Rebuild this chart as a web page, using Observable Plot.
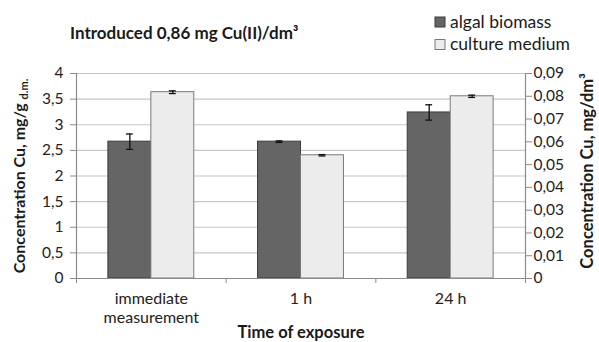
<!DOCTYPE html>
<html><head><meta charset="utf-8">
<script src="https://cdn.jsdelivr.net/npm/d3@7"></script>
<script src="https://cdn.jsdelivr.net/npm/@observablehq/plot@0.6"></script>
<style>
body{margin:0;background:#fff;}
#chart{position:relative;width:599px;height:342px;}
</style></head><body><div id="chart"></div>
<script>
// Data
const categories = ["immediate\nmeasurement", "1 h", "24 h"];
const series = ["algal biomass", "culture medium"];
const algal = [2.67, 2.67, 3.24];          // mg/g d.m. (left axis)
const algalErr = [0.15, 0.015, 0.15];
const medium = [0.0818, 0.0541, 0.0800];   // mg/dm3 (right axis)
const mediumErr = [0.0006, 0.0003, 0.0005];
const leftTicks = [0, 0.5, 1, 1.5, 2, 2.5, 3, 3.5, 4];
const rightTicks = [0, 0.01, 0.02, 0.03, 0.04, 0.05, 0.06, 0.07, 0.08, 0.09];

const ratio = 0.09 / 4; // right axis units per left axis unit
const bw = 0.287;       // bar width in category units
const cap = 0.023;

const rows = [];
categories.forEach((c, i) => {
  rows.push({i, series: series[0], x1: i + 0.5 - bw, x2: i + 0.5, y: algal[i], lo: algal[i] - algalErr[i], hi: algal[i] + algalErr[i]});
  rows.push({i, series: series[1], x1: i + 0.5, x2: i + 0.5 + bw, y: medium[i] / ratio, lo: (medium[i] - mediumErr[i]) / ratio, hi: (medium[i] + mediumErr[i]) / ratio});
});
rows.forEach(r => r.xc = (r.x1 + r.x2) / 2);

const fmtL = d => String(d).replace(".", ",");
const fmtR = d => { const v = Math.round(d * ratio * 100) / 100; return v === 0 ? "0" : v.toFixed(2).replace(".", ","); };

const plot = Plot.plot({
  width: 599, height: 342,
  marginTop: 73, marginBottom: 64, marginLeft: 76, marginRight: 74,
  style: {fontFamily: "Lato, sans-serif", background: "#fff"},
  x: {domain: [0, 3], axis: null},
  y: {domain: [0, 4], axis: null},
  color: {domain: series, range: ["#656565", "#ececec"]},
  marks: [
    Plot.gridY(leftTicks, {stroke: "#c6c6c6", strokeOpacity: 1, strokeWidth: 1.2}),
    Plot.rectY(rows, {x1: "x1", x2: "x2", y: "y", fill: "series", stroke: d => d.series === series[0] ? "#3c3c3c" : "#7a7a7a", strokeWidth: 1}),
    Plot.ruleX(rows, {x: "xc", y1: "lo", y2: "hi", stroke: "#111", strokeWidth: 1.3}),
    Plot.ruleY(rows, {y: "lo", x1: d => d.xc - cap, x2: d => d.xc + cap, stroke: "#111", strokeWidth: 1.3}),
    Plot.ruleY(rows, {y: "hi", x1: d => d.xc - cap, x2: d => d.xc + cap, stroke: "#111", strokeWidth: 1.3}),
    Plot.ruleY([0], {stroke: "#8a8a8a", strokeWidth: 1.2}),
    Plot.ruleX([0, 3], {stroke: "#8a8a8a", strokeWidth: 1.2}),
    Plot.axisY({ticks: leftTicks, tickFormat: fmtL, tickSize: 6, tickPadding: 7, label: null, fontSize: 15.5, stroke: "#8a8a8a", fill: "#222"}),
    Plot.axisY({anchor: "right", ticks: rightTicks.map(v => v / ratio), tickFormat: fmtR, tickSize: 6, tickPadding: 2, label: null, fontSize: 15.5, stroke: "#8a8a8a", fill: "#222"}),
    Plot.axisX({ticks: [0, 1, 2, 3], tickFormat: () => "", tickSize: 5, label: null, stroke: "#8a8a8a"}),
    Plot.axisX({ticks: categories.map((c, i) => i + 0.5), tickFormat: d => categories[Math.round(d - 0.5)], tickSize: 0, tickPadding: 12, lineHeight: 1.2, label: null, fontSize: 16, fill: "#222"})
  ]
});
document.getElementById("chart").appendChild(plot);

const svg = d3.select(plot);
const ink = "#1a1a1a";
svg.append("text").attr("x", 70).attr("y", 39).attr("text-anchor", "start").attr("font-size", 17).attr("font-weight", "bold").attr("fill", ink)
  .text("Introduced 0,86 mg Cu(II)/dm³");

// legend
const legColors = ["#656565", "#ececec"], legStroke = ["#3c3c3c", "#7a7a7a"];
series.forEach((s, k) => {
  const y0 = 17 + k * 22.5;
  svg.append("rect").attr("x", 435).attr("y", y0).attr("width", 10).attr("height", 10)
    .attr("fill", legColors[k]).attr("stroke", legStroke[k]);
  svg.append("text").attr("x", 450).attr("y", y0 + 10.5).attr("text-anchor", "start").attr("font-size", 17.5).attr("fill", ink).text(s);
});

// left axis title with subscript
const lt = svg.append("text").attr("transform", "translate(25,176) rotate(-90)").attr("text-anchor", "middle")
  .attr("font-size", 16).attr("font-weight", "bold").attr("fill", ink);
lt.append("tspan").text("Concentration Cu, mg/g ");
lt.append("tspan").attr("font-size", 11).attr("dy", 3).text("d.m.");

svg.append("text").attr("transform", "translate(593,171) rotate(-90)").attr("text-anchor", "middle")
  .attr("font-size", 16.5).attr("font-weight", "bold").attr("fill", ink).text("Concentration Cu, mg/dm³");

svg.append("text").attr("x", 301).attr("y", 338).attr("text-anchor", "middle")
  .attr("font-size", 16.5).attr("font-weight", "bold").attr("fill", ink).text("Time of exposure");
</script></body></html>
